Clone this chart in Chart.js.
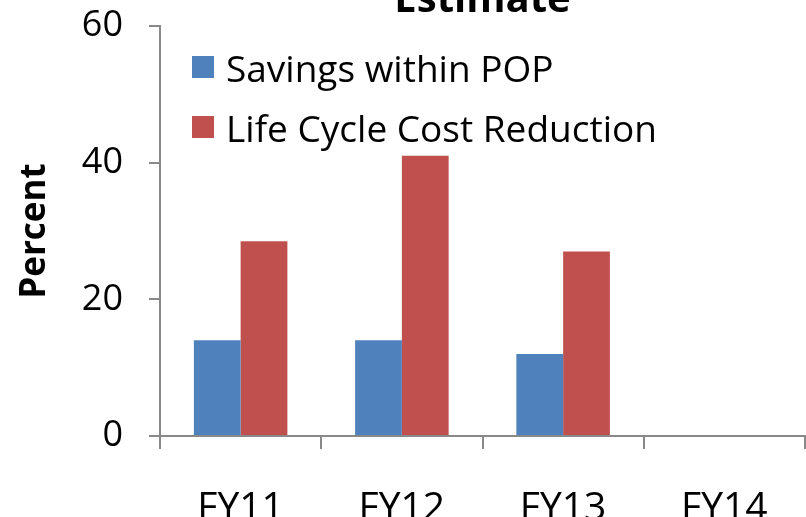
<!DOCTYPE html>
<html lang="en">
<head>
<meta charset="UTF-8">
<title>Estimate</title>
<script src="https://cdn.jsdelivr.net/npm/chart.js"></script>
<style>
  html, body { margin: 0; padding: 0; background: #fff; overflow: hidden; }
  .wrap { position: relative; width: 806px; height: 517px; overflow: hidden; }
  #chartBox { position: absolute; left: 0; top: -40px; width: 806px; height: 600px; }
  .legend { position: absolute; left: 192px; top: 37px; font-family: 'Open Sans', sans-serif; font-size: 37px; color: #000; }
  .legend .row { display: flex; align-items: center; height: 60px; white-space: nowrap; }
  .legend .sw { width: 22px; height: 22px; margin-right: 12px; }
</style>
</head>
<body>
<div class="wrap">
  <div id="chartBox"><canvas id="estimateChart" width="806" height="600"></canvas></div>
  <div class="legend" id="legend"></div>
</div>
<script>
// chart data
const years = ['FY11', 'FY12', 'FY13', 'FY14'];
const savingsWithinPop = [14, 14, 12, null];
const lifeCycleCostReduction = [28.5, 41, 27, null];
const yTicks = [0, 20, 40, 60];

const axisGray = '#898989';
const font = 'Open Sans';

const ctx = document.getElementById('estimateChart').getContext('2d');
const chart = new Chart(ctx, {
    type: 'bar',
    data: {
        labels: years,
        datasets: [
            { label: 'Savings within POP', data: savingsWithinPop, backgroundColor: '#4F81BD' },
            { label: 'Life Cycle Cost Reduction', data: lifeCycleCostReduction, backgroundColor: '#C0504D' }
        ]
    },
    options: {
        responsive: false,
        animation: false,
        layout: { padding: { left: 0, right: 1, top: 0, bottom: 0 } },
        datasets: { bar: { categoryPercentage: 0.58, barPercentage: 1.0 } },
        plugins: {
            legend: { display: false },
            tooltip: { enabled: false },
            title: {
                display: true,
                text: 'Estimate',
                fullSize: false,
                color: '#000',
                font: { family: font, size: 40, weight: 'bold', lineHeight: 1.2 },
                padding: { top: 17, bottom: 1 }
            }
        },
        scales: {
            x: {
                grid: { display: true, drawOnChartArea: false, offset: true, tickLength: 13, color: axisGray, lineWidth: 2 },
                border: { color: axisGray, width: 2 },
                ticks: { color: '#000', font: { family: font, size: 39 }, padding: 36 },
                afterFit: s => { s.height = 124; }
            },
            y: {
                min: 0,
                max: 60,
                afterBuildTicks: s => { s.ticks = yTicks.map(v => ({ value: v })); },
                grid: { display: true, drawOnChartArea: false, tickLength: 11, color: axisGray, lineWidth: 2 },
                border: { color: axisGray, width: 2 },
                ticks: { color: '#000', font: { family: font, size: 36 }, padding: 26 },
                title: {
                    display: true,
                    text: 'Percent',
                    color: '#000',
                    font: { family: font, size: 35, weight: 'bold' },
                    padding: { top: 14, bottom: 0 }
                },
                afterFit: s => { s.width = 160; }
            }
        }
    }
});

// legend built from the datasets
const legendEl = document.getElementById('legend');
chart.data.datasets.forEach(ds => {
    const row = document.createElement('div');
    row.className = 'row';
    row.innerHTML = `<span class="sw" style="background:${ds.backgroundColor}"></span><span>${ds.label}</span>`;
    legendEl.appendChild(row);
});
</script>
</body>
</html>
